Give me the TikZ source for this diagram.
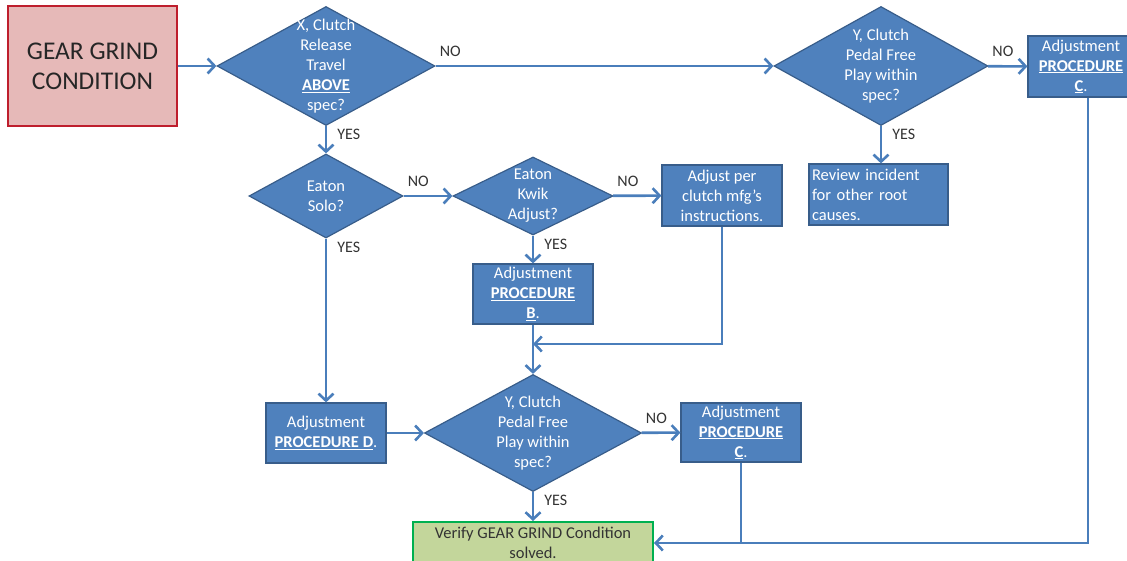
\documentclass[tikz,border=0pt]{standalone}
\usepackage{fontspec}
\setmainfont{Carlito}
\usetikzlibrary{shapes.geometric,arrows.meta}

\definecolor{boxblue}{RGB}{79,129,189}
\definecolor{boxedge}{RGB}{56,93,138}
\definecolor{linkblue}{RGB}{74,126,187}
\definecolor{startfill}{RGB}{230,185,184}
\definecolor{startedge}{RGB}{190,30,45}
\definecolor{endfill}{RGB}{195,214,155}
\definecolor{endedge}{RGB}{0,176,80}

\begin{document}
\begin{tikzpicture}[x=1pt,y=-1pt,>={Straight Barb[length=7pt,width=15pt]},
    link/.style={->,draw=linkblue,line width=2.6pt},
    proc/.style={rectangle,draw=boxedge,fill=boxblue,line width=1.2pt,text=white,
                 minimum width=120pt,minimum height=60pt,align=center,inner sep=2pt,
                 font=\fontsize{16.5}{20}\selectfont},
    decision/.style={diamond,draw=boxedge,fill=boxblue,line width=1.2pt,inner sep=0pt},
    dtext/.style={text=white,align=center,inner sep=0pt,font=\fontsize{16.5}{20}\selectfont},
    lbl/.style={text=black!80,inner sep=1pt,font=\fontsize{16}{16}\selectfont},
    nolbl/.style={lbl,anchor=south west,pos=0,xshift=2pt,yshift=7pt},
    yeslbl/.style={lbl,anchor=north west,pos=0,xshift=9pt,yshift=-1pt}]
   \useasboundingbox (0,0) rectangle (1127,561);

   % start
   \node[rectangle,draw=startedge,fill=startfill,line width=2pt,text=black!85,
         minimum width=169pt,minimum height=120pt,align=center,
         font=\fontsize{25.5}{30}\selectfont] (gear) at (92.5,66) {GEAR GRIND\\CONDITION};

   % questions
   \node[decision,minimum width=218pt,minimum height=119pt] (clutchX) at (326,66) {};
   \node[dtext] at (clutchX) {X, Clutch\\Release\\Travel\\\underline{\textbf{ABOVE}}\\spec?};
   \node[decision,minimum width=214pt,minimum height=119pt] (playTop) at (881,66) {};
   \node[dtext] at (playTop) {Y, Clutch\\Pedal Free\\Play within\\spec?};
   \node[decision,minimum width=154pt,minimum height=84pt] (solo) at (326,196) {};
   \node[dtext] at (solo) {Eaton\\Solo?};
   \node[decision,minimum width=160pt,minimum height=78pt] (kwik) at (533,196) {};
   \node[dtext] at (kwik) {Eaton\\Kwik\\Adjust?};
   \node[decision,minimum width=217pt,minimum height=117pt] (playBot) at (533,433) {};
   \node[dtext] at (playBot) {Y, Clutch\\Pedal Free\\Play within\\spec?};

   % actions
   \node[proc,minimum width=106pt,minimum height=61pt] (procCtop) at (1081,66.5)
        {Adjustment\\\underline{\textbf{PROCEDURE}}\\\underline{\textbf{C}}.};
   \node[proc,minimum height=61pt] (mfg) at (722,195.5)
        {Adjust per\\clutch mfg’s\\instructions.};
   \node[proc,minimum height=61pt,text width=133pt,align=left,inner sep=3pt] (review) at (878.5,194.5)
        {Review incident\\for other root\\causes.};
   \node[proc] (procB) at (533,294)
        {Adjustment\\\underline{\textbf{PROCEDURE}}\\\underline{\textbf{B}}.};
   \node[proc] (procD) at (326,433)
        {Adjustment\\\underline{\textbf{PROCEDURE D}}.};
   \node[proc,minimum height=59pt] (procCbot) at (741,432.5)
        {Adjustment\\\underline{\textbf{PROCEDURE}}\\\underline{\textbf{C}}.};
   \node[rectangle,draw=endedge,fill=endfill,line width=2pt,text=black!80,
         minimum width=240pt,minimum height=42pt,align=center,inner sep=1pt,
         font=\fontsize{16.5}{20}\selectfont] (verify) at (533,543)
        {Verify GEAR GRIND Condition\\solved.};

   \coordinate (merge) at (533,344);
   \coordinate (join) at (procCbot.south |- verify.east);

   \path[link]
    (gear) edge (clutchX)
    (clutchX) edge node[nolbl] {NO} (playTop)
    edge node[yeslbl] {YES} (solo)
    (playTop) edge node[nolbl] {NO} (procCtop)
    edge node[yeslbl] {YES} (playTop.south |- review.north)
    (solo) edge node[nolbl] {NO} (kwik)
    edge node[yeslbl] {YES} (procD)
    (kwik) edge node[nolbl] {NO} (mfg)
    edge node[yeslbl] {YES} (procB)
    (procB) edge (playBot)
    (procD) edge (playBot)
    (playBot) edge node[nolbl] {NO} (procCbot)
    edge node[yeslbl] {YES} (verify);

   \draw[link] (mfg.south) |- (merge);
   \draw[link] (procCbot.south) |- (verify.east);
   \draw[link,-] ([xshift=7pt]procCtop.south) |- (join);
\end{tikzpicture}
\end{document}
